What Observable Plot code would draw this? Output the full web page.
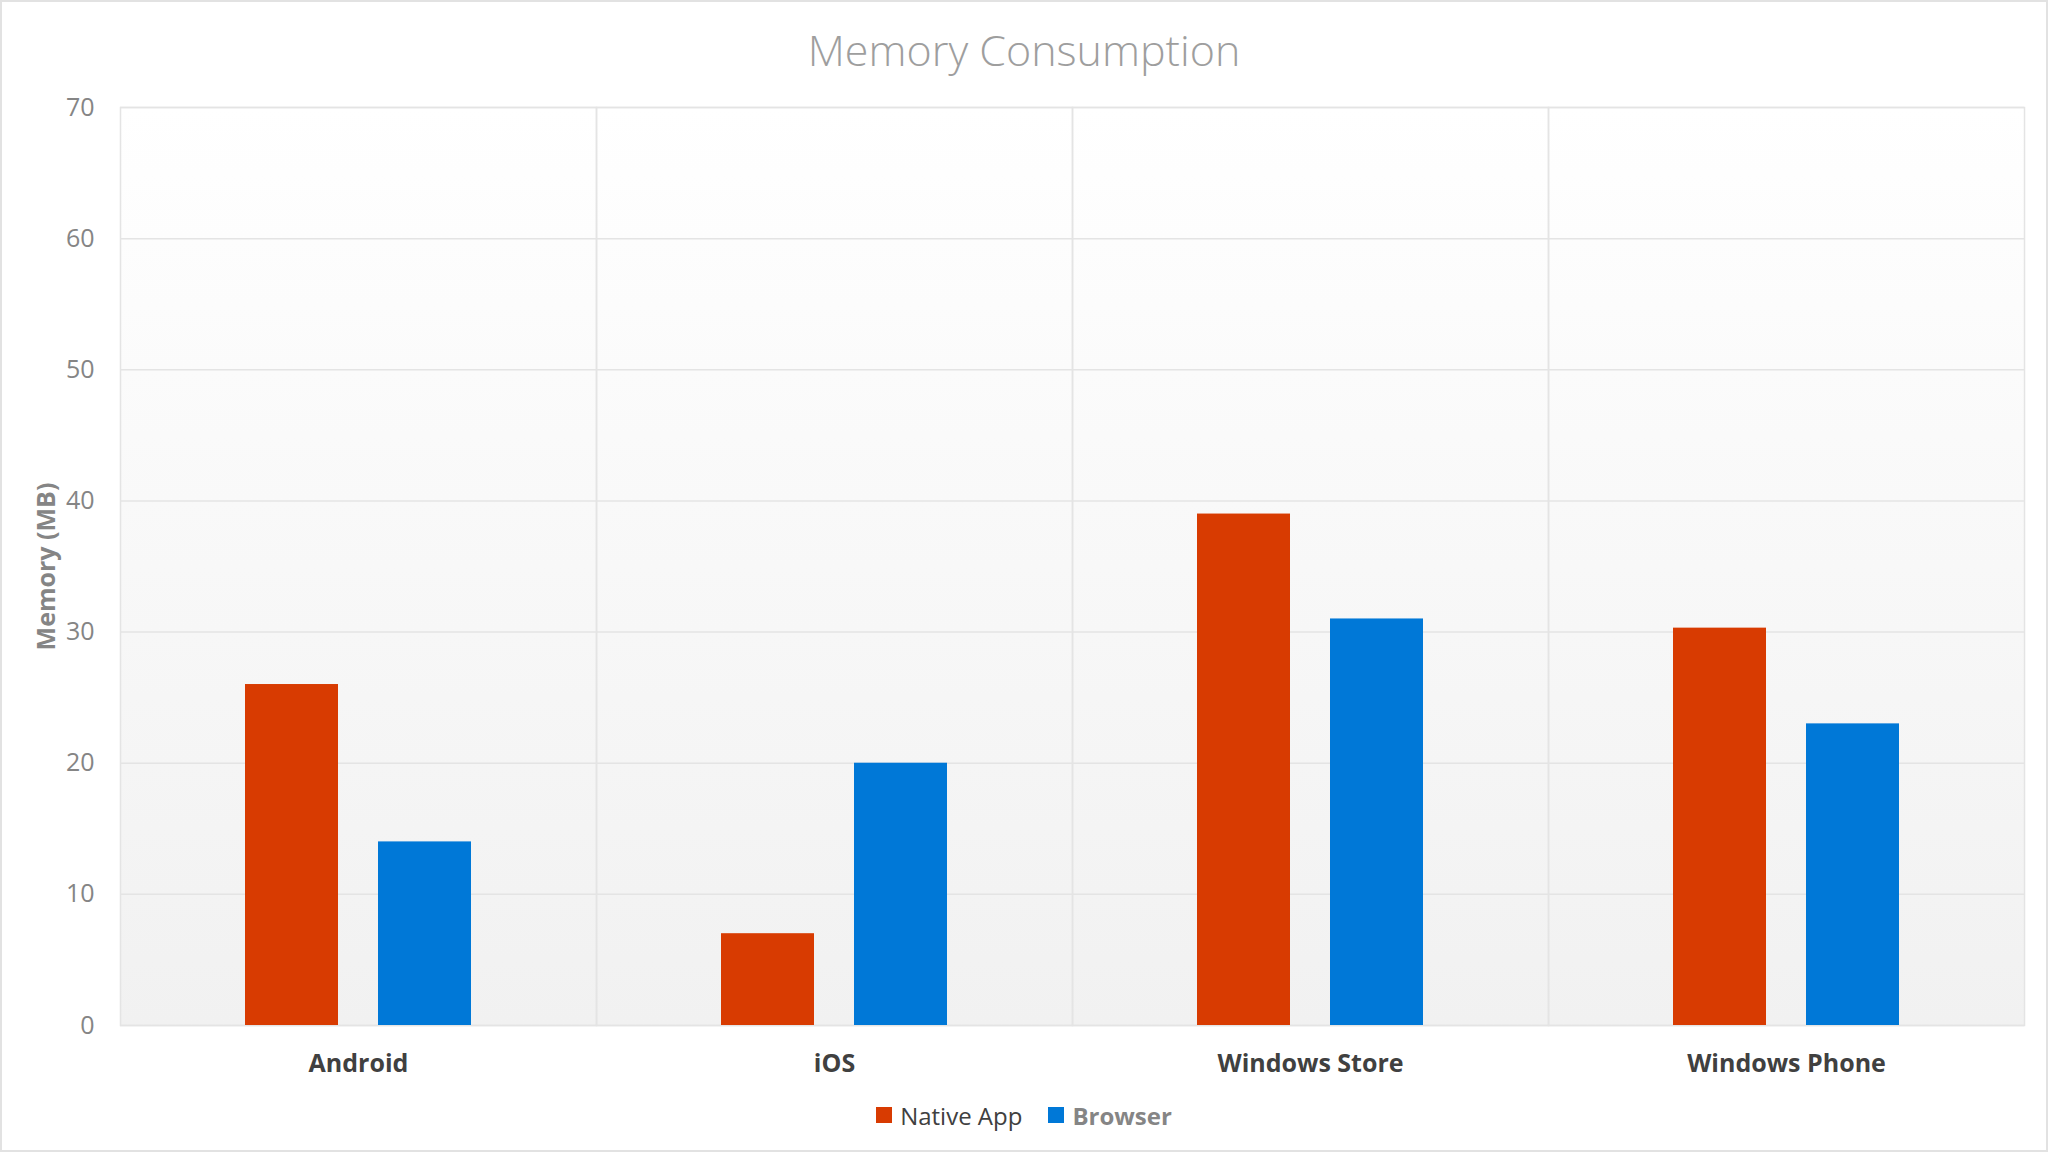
<!DOCTYPE html>
<html>
<head>
<meta charset="utf-8">
<script src="https://cdn.jsdelivr.net/npm/d3@7"></script>
<script src="https://cdn.jsdelivr.net/npm/@observablehq/plot@0.6"></script>
<style>
  html, body { margin: 0; padding: 0; background: #ffffff; }
  body { width: 2048px; height: 1152px; position: relative; overflow: hidden; font-family: "Open Sans", "Noto Sans", sans-serif; }
  #border { position: absolute; left: 0; top: 0; width: 2048px; height: 1152px; box-sizing: border-box; border: 2px solid #e2e2e2; pointer-events: none; }
  #title { height: 100px; line-height: 100px; text-align: center; font-size: 43px; font-weight: 300; color: #9e9e9e; }
  #legend { height: 60px; display: flex; justify-content: center; align-items: center; gap: 26px; font-size: 24px; }
  .item { display: flex; align-items: center; gap: 8px; }
  .sw { width: 16px; height: 16px; display: inline-block; }
</style>
</head>
<body>
<div id="border"></div>
<div id="title">Memory Consumption</div>
<div id="chart"></div>
<div id="legend"></div>
<script>
const platforms = ["Android", "iOS", "Windows Store", "Windows Phone"];
const seriesNames = ["Native App", "Browser"];
const nativeApp = [26, 7, 39, 30.3];
const browser = [14, 20, 31, 23];
const yTicks = [0, 10, 20, 30, 40, 50, 60, 70];
const colors = ["#D83B01", "#0078D7"];

const data = [];
platforms.forEach((p, i) => {
  data.push({platform: p, series: seriesNames[0], value: nativeApp[i]});
  data.push({platform: p, series: seriesNames[1], value: browser[i]});
});

const chart = Plot.plot({
  width: 2048,
  height: 985,
  marginLeft: 120,
  marginRight: 24,
  marginTop: 7,
  marginBottom: 60,
  style: {overflow: "visible", fontFamily: "'Open Sans', 'Noto Sans', sans-serif", background: "transparent"},
  fx: {domain: platforms, padding: 0, label: null, axis: null},
  x: {domain: seriesNames, paddingInner: 0.304, paddingOuter: 0.941, axis: null},
  y: {domain: [0, 70], label: null},
  color: {domain: seriesNames, range: colors},
  marks: [
    Plot.frame({fill: "url(#bgGrad)", stroke: null}),
    Plot.gridY(yTicks, {stroke: "#e4e4e4", strokeOpacity: 1, strokeWidth: 1.5}),
    Plot.frame({stroke: "#e4e4e4", strokeWidth: 1.5}),
    Plot.barY(data, {fx: "platform", x: "series", y: "value", fill: "series"}),
    Plot.axisY(yTicks, {tickSize: 0, tickPadding: 26, fontSize: 25, fill: "#858585", label: null}),
    Plot.axisFx({anchor: "bottom", tickSize: 0, tickPadding: 29, fontSize: 25, fontWeight: "bold", fill: "#404040", label: null}),
    Plot.text(["Memory (MB)"], {frameAnchor: "left", rotate: -90, dx: -74, fontSize: 25, fontWeight: "bold", fill: "#858585", textAnchor: "middle", lineAnchor: "middle", facetAnchor: "left"})
  ]
});

// background gradient definition
const svgNS = "http://www.w3.org/2000/svg";
const defs = document.createElementNS(svgNS, "defs");
const grad = document.createElementNS(svgNS, "linearGradient");
grad.setAttribute("id", "bgGrad");
grad.setAttribute("x1", "0"); grad.setAttribute("y1", "0");
grad.setAttribute("x2", "0"); grad.setAttribute("y2", "1");
[["0%", "#ffffff"], ["100%", "#f1f1f1"]].forEach(([o, c]) => {
  const s = document.createElementNS(svgNS, "stop");
  s.setAttribute("offset", o); s.setAttribute("stop-color", c);
  grad.appendChild(s);
});
defs.appendChild(grad);
chart.insertBefore(defs, chart.firstChild);
document.getElementById("chart").appendChild(chart);

const legend = document.getElementById("legend");
seriesNames.forEach((name, i) => {
  const item = document.createElement("div");
  item.className = "item";
  const sw = document.createElement("span");
  sw.className = "sw";
  sw.style.background = colors[i];
  const label = document.createElement("span");
  label.textContent = name;
  if (i === 1) { label.style.fontWeight = "bold"; label.style.color = "#858585"; }
  else { label.style.color = "#404040"; }
  item.appendChild(sw);
  item.appendChild(label);
  legend.appendChild(item);
});
</script>
</body>
</html>
